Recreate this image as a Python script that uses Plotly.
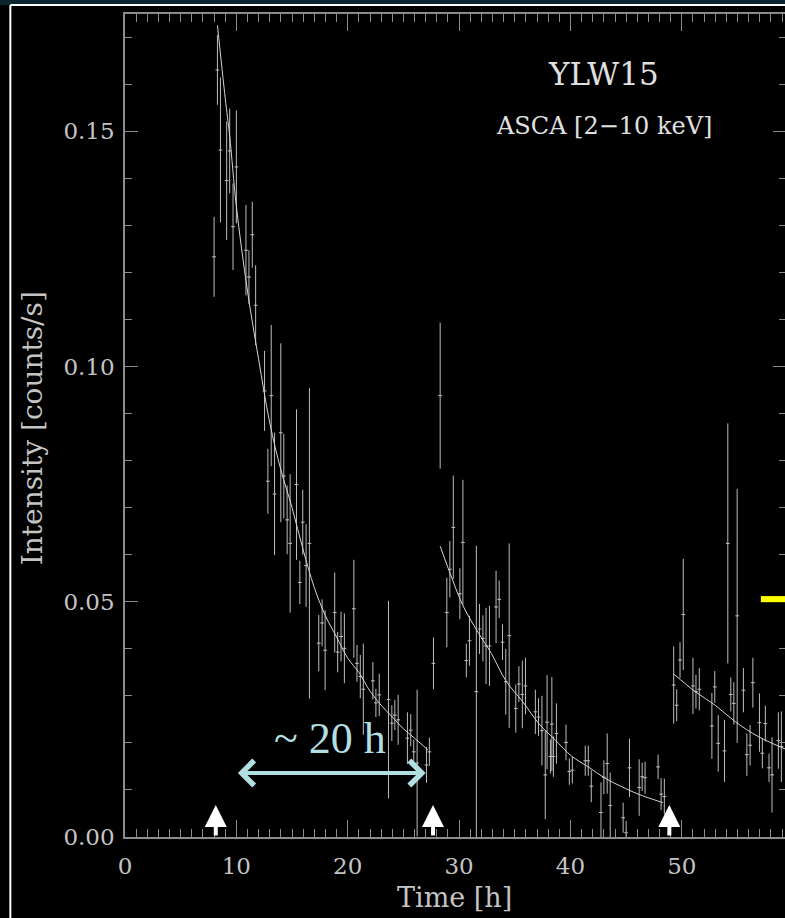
import plotly.graph_objects as go

# ASCA light curve of YLW15
time_h = [8.0, 8.3, 8.57, 9.13, 9.4, 9.7, 10.0, 10.86, 11.13, 11.43, 11.73, 12.53, 12.83, 13.13, 13.43,
          13.99, 14.26, 14.56, 14.83, 15.4, 15.7, 15.96, 16.26, 16.56, 17.4, 17.7, 17.97, 18.83, 19.1,
          19.4, 19.7, 20.55, 20.83, 21.13, 21.4, 22.26, 22.53, 22.83, 23.66, 23.96, 24.23, 24.53, 25.36,
          25.66, 25.93, 26.23, 27.07, 27.33,
          27.7, 28.3, 28.9, 29.17, 29.48, 30.07, 30.34, 30.65, 30.93, 31.55, 31.83, 32.14, 32.42, 32.73,
          33.32, 33.6, 33.9, 34.19, 34.5, 35.09, 35.37, 35.68, 35.96, 36.85, 37.13, 37.44, 37.74, 37.9,
          38.2, 38.33, 38.47, 38.74, 39.6, 39.9, 40.17, 41.33, 41.6, 41.87, 42.74, 43.0, 43.3, 43.57,
          44.73, 45.0, 45.3, 46.17, 46.44, 46.7, 47.87, 48.14, 48.43,
          49.27, 49.54, 49.84, 50.13, 51.0, 51.27, 51.57, 52.7, 52.96, 53.27, 53.83, 54.13, 54.4, 54.67,
          54.97, 55.53, 55.84, 56.13, 56.38, 56.97, 57.23, 57.5, 57.83, 58.1, 58.67, 58.94]
rate = [0.1233, 0.163, 0.146, 0.1395, 0.1458, 0.1297, 0.1424, 0.1247, 0.119, 0.128, 0.113, 0.0948, 0.0756,
        0.0938, 0.0729, 0.0859, 0.0767, 0.0674, 0.0624, 0.0749, 0.0541, 0.0669, 0.0577, 0.0624, 0.0412,
        0.0455, 0.0397, 0.0477, 0.0393, 0.0426, 0.0401, 0.0485, 0.0369, 0.0341, 0.0314, 0.0332, 0.0285,
        0.0302, 0.0292, 0.0242, 0.0259, 0.0249, 0.021, 0.0227, 0.0181, 0.0157, 0.0153, 0.0181,
        0.0369, 0.0938, 0.0477, 0.0569, 0.0658, 0.0517, 0.0626, 0.0375, 0.0417, 0.0309, 0.0442, 0.0422,
        0.0406, 0.0406, 0.0489, 0.0505, 0.0414, 0.033, 0.0428, 0.0273, 0.0325, 0.0303, 0.0321, 0.0266,
        0.0255, 0.0226, 0.0132, 0.0244, 0.0171, 0.024, 0.0171, 0.022, 0.0201, 0.0139, 0.0142, 0.0162,
        0.0162, 0.0108, 0.0052, 0.0127, 0.0156, 0.0067, 0.0041, 0.0009, 0.0147, 0.0105, 0.0128, 0.0126,
        0.0149, 0.0091, 0.0086,
        0.0323, 0.028, 0.0376, 0.0473, 0.0321, 0.0309, 0.0314, 0.0236, 0.0319, 0.0199, 0.0183, 0.0624,
        0.0303, 0.0284, 0.047, 0.0312, 0.0175, 0.0195, 0.0328, 0.0243, 0.0178, 0.0241, 0.0147, 0.0132,
        0.0205, 0.0192]
rate_err = [0.0085, 0.0074, 0.0154, 0.0126, 0.009, 0.0092, 0.012, 0.0096, 0.0057, 0.007, 0.0085, 0.0085,
            0.0069, 0.015, 0.013, 0.019, 0.009, 0.0073, 0.0147, 0.016, 0.0046, 0.0069, 0.0088, 0.033,
            0.006, 0.005, 0.0085, 0.0085, 0.0043, 0.0053, 0.0074, 0.0104, 0.0039, 0.0046, 0.0097, 0.004,
            0.003, 0.0045, 0.021, 0.0038, 0.0032, 0.0053, 0.0055, 0.0034, 0.0026, 0.0156, 0.0038, 0.003,
            0.0055, 0.0155, 0.0074, 0.006, 0.011, 0.0054, 0.0133, 0.0036, 0.0053, 0.031, 0.0053, 0.0049,
            0.0081, 0.0085, 0.0077, 0.004, 0.0038, 0.007, 0.0196, 0.0051, 0.0038, 0.0072, 0.006, 0.0047,
            0.004, 0.0074, 0.0094, 0.01, 0.0036, 0.01, 0.0043, 0.0064, 0.0038, 0.0028, 0.0028, 0.0032,
            0.0032, 0.0034, 0.0064, 0.0036, 0.0064, 0.007, 0.0032, 0.0025, 0.0062, 0.006, 0.003, 0.0034,
            0.0026, 0.0034, 0.0038,
            0.0082, 0.0034, 0.0038, 0.0118, 0.006, 0.0036, 0.0045, 0.007, 0.0034, 0.006, 0.0066, 0.0255,
            0.0036, 0.0045, 0.027, 0.0047, 0.0045, 0.0043, 0.0053, 0.0062, 0.0032, 0.0038, 0.003, 0.008,
            0.006, 0.0075]

# decay fits drawn over each flare
fit1_t = [8.3, 9.0, 9.4, 10.0, 11.0, 12.0, 13.0, 14.0, 15.0, 16.0, 17.0, 18.0, 19.0, 20.0, 21.0, 22.0,
          23.0, 24.0, 25.0, 26.0, 27.2]
fit1_y = [0.1725, 0.157, 0.149, 0.134, 0.116, 0.1015, 0.088, 0.078, 0.070, 0.061, 0.053, 0.047, 0.0425,
          0.038, 0.035, 0.031, 0.028, 0.0255, 0.023, 0.021, 0.0185]
fit2_t = [28.3, 29.2, 30.3, 31.7, 32.9, 34.2, 35.7, 37.2, 38.6, 40.1, 41.6, 43.1, 44.6, 46.1, 48.3]
fit2_y = [0.0618, 0.056, 0.0494, 0.0435, 0.039, 0.0332, 0.0288, 0.024, 0.0207, 0.0172, 0.0149, 0.0125,
          0.0107, 0.0091, 0.0073]
fit3_t = [49.3, 51.2, 53.0, 54.8, 56.9, 59.3]
fit3_y = [0.0346, 0.0309, 0.028, 0.0245, 0.0213, 0.0187]

# flare onsets marked with arrows
flare_starts = [8.15, 27.66, 48.88]

gray = '#bdbdbd'
axis_gray = '#8c8c8c'
teal = '#b2dfe2'

# plot area: x 125..788 (a little past the window edge), y 14..837
PL, PR, PT, PB = 125, 788, 14, 837

fig = go.Figure()
fig.add_trace(go.Scatter(x=time_h, y=rate, mode='markers',
                         marker=dict(size=1, color=gray),
                         error_y=dict(type='data', array=rate_err, color=gray, thickness=1, width=0),
                         error_x=dict(type='constant', value=0.17, color=gray, thickness=1, width=0),
                         showlegend=False))
for ft, fy in [(fit1_t, fit1_y), (fit2_t, fit2_y), (fit3_t, fit3_y)]:
    fig.add_trace(go.Scatter(x=ft, y=fy, mode='lines', line=dict(color='#d6d6d6', width=1),
                             line_shape='spline', showlegend=False))

tick_font = dict(family='DejaVu Serif', size=23, color='#c4c4c4')
fig.update_xaxes(range=[0, (PR - PL) / 11.17], dtick=10, tick0=0, ticks='inside', ticklen=17, tickwidth=1,
                 tickcolor=axis_gray, showline=True, linecolor=axis_gray, linewidth=1.5,
                 mirror='allticks', showgrid=False, zeroline=False, tickfont=tick_font,
                 ticklabelstandoff=8,
                 minor=dict(dtick=1, ticks='inside', ticklen=8, tickcolor=axis_gray, showgrid=False))
fig.update_yaxes(range=[0, 0.1749], dtick=0.05, tick0=0, tickformat='.2f', ticks='inside', ticklen=13,
                 tickwidth=1, tickcolor=axis_gray, showline=True, linecolor=axis_gray, linewidth=1.5,
                 mirror='allticks', showgrid=False, zeroline=False, tickfont=tick_font,
                 ticklabelstandoff=4,
                 minor=dict(dtick=0.01, ticks='inside', ticklen=7, tickcolor=axis_gray, showgrid=False))

annotations = [
    dict(text='YLW15', x=605, y=74, font=dict(family='DejaVu Serif', size=31, color='#e0e0e0')),
    dict(text='ASCA [2\u221210 keV]', x=605, y=126, font=dict(family='DejaVu Serif', size=24, color='#e0e0e0')),
    dict(text='Time [h]', x=455, y=897, font=dict(family='DejaVu Serif', size=27, color='#c4c4c4')),
    dict(text='Intensity [counts/s]', x=32, y=428, textangle=-90,
         font=dict(family='DejaVu Serif', size=28, color='#c4c4c4')),
    dict(text='~ 20 h', x=331, y=738, font=dict(family='Liberation Serif', size=44, color=teal)),
]
for a in annotations:
    # pixel position -> paper coords
    a['x'] = (a['x'] - PL) / (PR - PL)
    a['y'] = (PB - a['y']) / (PB - PT)
    a.update(xref='paper', yref='paper', showarrow=False, xanchor='center', yanchor='middle')

for t in flare_starts:
    annotations.append(dict(x=t, y=0.0068, ax=t, ay=0.0, xref='x', yref='y', axref='x', ayref='y',
                            showarrow=True, arrowhead=2, arrowsize=1.1, arrowwidth=4,
                            arrowcolor='white', text=''))

# "~20 h" double arrow
annotations.append(dict(x=27.0, y=0.0136, ax=10.0, ay=0.0136, xref='x', yref='y', axref='x', ayref='y',
                        showarrow=True, arrowhead=4, startarrowhead=4, arrowside='end+start',
                        arrowsize=1.2, startarrowsize=1.2, arrowwidth=4, arrowcolor=teal, text=''))

fx = (10 - PL) / (PR - PL)
fy = (PB - 5) / (PB - PT)
shapes = [
    # dark strip of the slide above the frame
    dict(type='rect', xref='paper', yref='paper', x0=-0.2, x1=1.01, y0=fy, y1=1.03,
         fillcolor='#0b2630', line=dict(width=0), layer='below'),
    # white slide frame
    dict(type='line', xref='paper', yref='paper', x0=fx, x1=fx, y0=fy, y1=-0.11,
         line=dict(color='white', width=2)),
    dict(type='line', xref='paper', yref='paper', x0=fx, x1=1.01, y0=fy, y1=fy,
         line=dict(color='white', width=2)),
    # yellow pointer on the right edge
    dict(type='rect', xref='x', yref='y', x0=57.1, x1=59.4, y0=0.0499, y1=0.0512,
         fillcolor='#ffff00', line=dict(width=0)),
]

fig.update_layout(width=PR, height=918, margin=dict(l=PL, r=0, t=PT, b=918 - PB),
                  paper_bgcolor='black', plot_bgcolor='black',
                  annotations=annotations, shapes=shapes, showlegend=False)

# drop the default page margin so the figure sits at the window's corner
fig.write_html("out.html", config={'displayModeBar': False},
               post_script="document.body.style.margin='0';document.body.style.overflow='hidden';")
